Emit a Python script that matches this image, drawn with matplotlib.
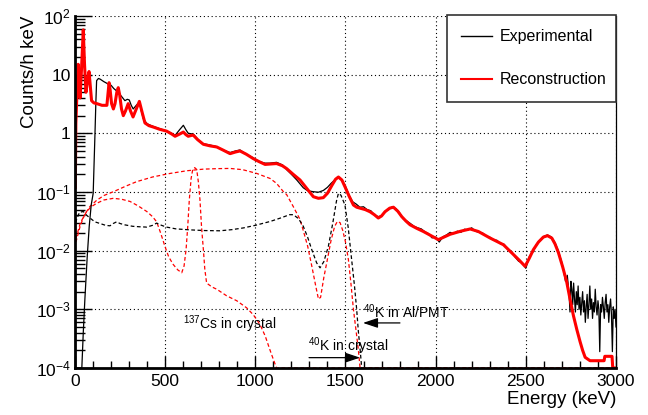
import numpy as np
import matplotlib
matplotlib.use('Agg')
import matplotlib.pyplot as plt
from matplotlib.ticker import FixedLocator, FixedFormatter, MultipleLocator
from matplotlib.lines import Line2D

plt.rcParams['font.family'] = ['Liberation Sans', 'DejaVu Sans']
plt.rcParams['mathtext.fontset'] = 'custom'
plt.rcParams['mathtext.rm'] = 'Liberation Sans'
plt.rcParams['mathtext.it'] = 'Liberation Sans'
plt.rcParams['mathtext.bf'] = 'Liberation Sans'

# reconstruction (red solid)
rec_e = [2, 5, 12, 18, 23, 28, 36, 46, 53, 61, 70, 78, 85, 92, 105, 122, 150, 177, 184, 189,
         195, 203, 213, 222, 232, 240, 248, 258, 268, 280, 295, 308, 322, 340, 357, 372, 388,
         410, 434, 470, 508, 535, 555, 580, 601, 615, 628, 645, 656, 680, 712, 750, 786, 820,
         860, 890, 915, 950, 989, 1020, 1054, 1085, 1118, 1150, 1174, 1210, 1248, 1290, 1322,
         1350, 1377, 1400, 1425, 1445, 1461, 1480, 1497, 1520, 1544, 1562, 1581, 1610, 1636,
         1660, 1682, 1700, 1719, 1745, 1766, 1790, 1812, 1835, 1858, 1895, 1932, 1975, 2015,
         2045, 2080, 2140, 2191, 2237, 2302, 2376, 2431, 2465, 2496, 2520, 2542, 2570, 2597,
         2620, 2644, 2662, 2681, 2705, 2727, 2745, 2764, 2783, 2801, 2815, 2829, 2856, 2934,
         2938, 2978, 2982, 3000]
rec_v = [0.12, 1.5, 6, 15, 7, 4, 12, 58, 15, 5, 8, 11.3, 6.5, 3.6, 3.3, 3.2, 3.0, 3.0, 5.0, 7.3,
         5.5, 3.2, 2.6, 3.2, 5.0, 6.0, 4.5, 2.6, 2.0, 2.4, 3.2, 2.4, 1.9, 2.6, 3.5, 2.3, 1.5,
         1.35, 1.28, 1.17, 1.09, 0.98, 0.89, 0.97, 1.05, 0.95, 0.89, 0.92, 0.93, 0.78, 0.65,
         0.61, 0.585, 0.52, 0.45, 0.48, 0.50, 0.44, 0.37, 0.33, 0.295, 0.30, 0.305, 0.28, 0.25,
         0.20, 0.16, 0.11, 0.083, 0.078, 0.08, 0.095, 0.13, 0.165, 0.18, 0.16, 0.123, 0.085,
         0.060, 0.055, 0.053, 0.050, 0.046, 0.041, 0.036, 0.039, 0.046, 0.053, 0.055, 0.047,
         0.038, 0.032, 0.0276, 0.024, 0.0212, 0.018, 0.0154, 0.017, 0.019, 0.0215, 0.0234,
         0.0212, 0.0164, 0.0126, 0.0086, 0.0068, 0.0054, 0.0075, 0.0104, 0.014, 0.017, 0.018,
         0.0164, 0.013, 0.0092, 0.0052, 0.0029, 0.0015, 0.00078, 0.00045, 0.00028, 0.0002,
         0.000152, 0.000133, 0.000133, 0.000158, 0.000158, 0.0001, 0.0001]

# experimental (black solid)
exp_e = [0, 38, 42, 46, 55, 61, 68, 79, 90, 101, 106, 111, 116, 120, 130, 139, 160, 185, 200,
         215, 240, 260, 277, 290, 301, 312, 323, 340, 357, 368, 379, 400, 434, 470, 508, 535,
         555, 580, 601, 615, 628, 645, 656, 680, 703, 740, 780, 820, 860, 890, 915, 950, 990,
         1020, 1054, 1080, 1118, 1150, 1174, 1200, 1230, 1266, 1290, 1322, 1350, 1377, 1400,
         1420, 1440, 1461, 1480,
         1500, 1520, 1540, 1560, 1580, 1600, 1620, 1640, 1660, 1680, 1700, 1720, 1740, 1760,
         1780, 1800, 1820, 1840, 1860, 1880, 1900, 1920, 1940, 1960, 1980, 2000, 2020, 2040,
         2060, 2080, 2100, 2120, 2140, 2160, 2180, 2200, 2220, 2240, 2260, 2280, 2300, 2320,
         2340, 2360, 2380, 2400, 2420, 2440, 2460, 2480, 2500, 2520, 2540, 2560, 2580, 2600,
         2620, 2640, 2660, 2680, 2700,
         2710, 2720, 2730, 2740, 2745, 2750, 2755, 2760, 2765, 2770, 2775, 2780, 2785, 2790,
         2795, 2800, 2805, 2810, 2815, 2820, 2825, 2830, 2835, 2840, 2845, 2850, 2855, 2860,
         2865, 2870, 2875, 2880, 2885, 2890, 2895, 2900, 2905, 2910, 2915, 2920, 2925, 2930,
         2935, 2940, 2945, 2950, 2955, 2960, 2965, 2970, 2975, 2980, 2985, 2990, 2995, 3000]
exp_v = [1e-4, 1e-4, 2e-4, 4e-4, 1.5e-3, 3.2e-3, 8e-3, 0.026, 0.06, 0.095, 0.3, 1.0, 3.5, 7.9,
         8.6, 8.4, 7.6, 6.9, 6.6, 5.8, 5.0, 4.2, 3.6, 3.8, 3.7, 3.0, 2.6, 3.0, 3.4, 2.4, 1.77,
         1.45, 1.31, 1.2, 1.1, 1.0, 0.92, 1.15, 1.37, 1.15, 1.0, 0.98, 0.97, 0.8, 0.67, 0.64,
         0.6, 0.52, 0.47, 0.50, 0.52, 0.44, 0.38, 0.33, 0.31, 0.31, 0.32, 0.29, 0.24, 0.2, 0.16,
         0.118, 0.105, 0.101, 0.099, 0.106, 0.12, 0.14, 0.16, 0.175, 0.16,
         0.125, 0.088, 0.068, 0.062, 0.055, 0.056, 0.050, 0.048, 0.041, 0.038, 0.039, 0.047,
         0.050, 0.056, 0.052, 0.044, 0.035, 0.032, 0.029, 0.026, 0.0245, 0.0235, 0.021, 0.0195,
         0.0165, 0.0170, 0.0140, 0.0172, 0.0185, 0.0205, 0.0195, 0.0215, 0.0205, 0.0232, 0.0225,
         0.0245, 0.0215, 0.0205, 0.0200, 0.0178, 0.0170, 0.0152, 0.0150, 0.0130, 0.0128, 0.0105,
         0.0098, 0.0078, 0.0066, 0.0062, 0.0050, 0.0080, 0.0095, 0.0130, 0.0148, 0.0175, 0.0185,
         0.0172, 0.0140, 0.0100, 0.0062,
         0.0045, 0.0030, 0.0038, 0.0018, 0.0009, 0.0030, 0.0022, 0.0012, 0.0028, 0.0015, 0.0009,
         0.0020, 0.0012, 0.0025, 0.0010, 0.0016, 0.0008, 0.0013, 0.0020, 0.0009, 0.0014, 0.0006,
         0.0011, 0.0018, 0.0007, 0.0012, 0.0025, 0.0010, 0.0015, 0.0007, 0.0013, 0.0009, 0.0022,
         0.0011, 0.0008, 0.0014, 0.0010, 0.00019, 0.0012, 0.0009, 0.0016, 0.0011, 0.0007, 0.0013,
         0.0018, 0.0009, 0.0012, 0.0006, 0.0011, 0.0015, 0.0008, 0.00019, 0.0011, 0.0007, 0.0010,
         0.0005]

# 40K in Al/PMT component (black dashed)
pmt_e = [3, 9, 25, 46, 65, 83, 110, 139, 170, 194, 212, 231, 250, 277, 320, 360, 398, 430, 453,
         480, 508, 560, 638, 720, 804, 870, 934, 1000, 1082, 1140, 1190, 1211, 1240, 1266, 1290,
         1313, 1340, 1359, 1380, 1405, 1430, 1450, 1461, 1475, 1497, 1515, 1534, 1550, 1562,
         1572, 1581, 1590]
pmt_v = [0.03, 0.034, 0.045, 0.0465, 0.04, 0.036, 0.031, 0.029, 0.027, 0.0265, 0.029, 0.031,
         0.029, 0.0275, 0.026, 0.0255, 0.0252, 0.027, 0.0295, 0.027, 0.0252, 0.0235, 0.0226,
         0.022, 0.0218, 0.0228, 0.0244, 0.027, 0.0314, 0.036, 0.041, 0.041, 0.035, 0.026, 0.017,
         0.0104, 0.0062, 0.0051, 0.0065, 0.0118, 0.03, 0.07, 0.095, 0.088, 0.06, 0.025, 0.0071,
         0.0025, 0.001, 0.0004, 0.00021, 0.0001]

# 40K in crystal component (red dashed)
kcr_e = [5, 9, 30, 55, 83, 120, 160, 213, 280, 342, 430, 527, 620, 712, 790, 860, 930, 1008,
         1060, 1082, 1118, 1156, 1174, 1211, 1248, 1266, 1290, 1313, 1335, 1350, 1362, 1380,
         1396, 1420, 1440, 1455, 1470, 1485, 1500, 1516, 1530, 1544, 1560, 1571, 1581, 3000]
kcr_v = [0.014, 0.0154, 0.027, 0.042, 0.0565, 0.072, 0.087, 0.101, 0.125, 0.15, 0.18, 0.207,
         0.23, 0.245, 0.25, 0.252, 0.24, 0.207, 0.18, 0.17, 0.14, 0.101, 0.09, 0.056, 0.034,
         0.022, 0.012, 0.0055, 0.0025, 0.0015, 0.0016, 0.0035, 0.0062, 0.015, 0.026, 0.0314,
         0.03, 0.022, 0.014, 0.0071, 0.0028, 0.001, 0.0004, 0.00021, 0.0001, 0.0001]

# 137Cs in crystal component (red dashed)
cs_e = [5, 9, 30, 65, 90, 120, 160, 213, 260, 305, 350, 398, 430, 453, 475, 499, 520, 545, 570,
        592, 605, 616, 625, 634, 644, 653, 664, 675, 684, 693, 702, 712, 720, 730, 760, 786, 841,
        897, 952, 990, 1026, 1055, 1082, 1100, 1118, 3000]
cs_v = [0.016, 0.0176, 0.03, 0.0465, 0.056, 0.064, 0.073, 0.078, 0.075, 0.069, 0.058, 0.0465,
        0.038, 0.031, 0.02, 0.0118, 0.0078, 0.0058, 0.0047, 0.0042, 0.0055, 0.0104, 0.025,
        0.0736, 0.17, 0.242, 0.26, 0.242, 0.15, 0.074, 0.025, 0.0104, 0.0048, 0.0028, 0.0024,
        0.0022, 0.0017, 0.0014, 0.00106, 0.0008, 0.00055, 0.00035, 0.0002, 0.00014, 0.0001,
        0.0001]

ytick_vals = [1e-4, 1e-3, 1e-2, 1e-1, 1, 10, 100]
ytick_text = [r'$10^{-4}$', r'$10^{-3}$', r'$10^{-2}$', r'$10^{-1}$', '1', '10', r'$10^{2}$']

fig = plt.figure(figsize=(6.48, 4.15), dpi=100)
ax = fig.add_axes([0.1157, 0.1133, 0.8349, 0.8482])

ax.plot(cs_e, cs_v, color='red', lw=0.9, dashes=(3, 2))
ax.plot(kcr_e, kcr_v, color='red', lw=0.9, dashes=(3, 2))
ax.plot(pmt_e, pmt_v, color='black', lw=0.9, dashes=(3, 2))
ax.plot(exp_e, exp_v, color='black', lw=0.9)
ax.plot(rec_e, rec_v, color='red', lw=2.2)

ax.set_yscale('log')
ax.set_xlim(0, 3000)
ax.set_ylim(1e-4, 100)

ax.xaxis.set_major_locator(MultipleLocator(500))
ax.xaxis.set_minor_locator(MultipleLocator(100))
ax.yaxis.set_major_locator(FixedLocator(ytick_vals))
ax.yaxis.set_major_formatter(FixedFormatter(ytick_text))
ax.tick_params(axis='both', which='both', direction='in', labelsize=12.5)
ax.tick_params(axis='x', which='major', length=9, width=1, pad=4)
ax.tick_params(axis='x', which='minor', length=5, width=1)
ax.tick_params(axis='y', which='major', length=12, width=1, pad=3)
ax.tick_params(axis='y', which='minor', length=7, width=1)

ax.grid(True, which='major', color='black', lw=0.8, ls=(0, (1, 2.5)))
for s in ['left', 'bottom']:
    ax.spines[s].set_linewidth(2)
ax.spines['top'].set_visible(False)
ax.spines['right'].set_linewidth(0.9)

ax.set_xlabel('Energy (keV)', fontsize=13.5, loc='right')
ax.set_ylabel('Counts/h keV', fontsize=13.5, loc='top')
ax.xaxis.set_label_coords(1.0, -0.065)
ax.yaxis.set_label_coords(-0.068, 1.0)

ax.text(599, 5.6e-4, r'$^{137}$Cs in crystal', fontsize=10, va='center')
ax.text(1597, 9.2e-4, r'$^{40}$K in Al/PMT', fontsize=10, va='center')
ax.text(1292, 2.36e-4, r'$^{40}$K in crystal', fontsize=10, va='center')
arrow = dict(arrowstyle='-|>,head_length=0.9,head_width=0.3', color='black', lw=0.9,
             shrinkA=0, shrinkB=0)
ax.annotate('', xy=(1597, 5.86e-4), xytext=(1802, 5.86e-4), arrowprops=arrow)
ax.annotate('', xy=(1581, 1.5e-4), xytext=(1298, 1.5e-4), arrowprops=arrow)

handles = [Line2D([], [], color='black', lw=1), Line2D([], [], color='red', lw=1.5)]
leg = ax.legend(handles, ['Experimental', 'Reconstruction'], loc='upper left',
                bbox_to_anchor=(0.6876, 0.75, 0.3124, 0.253), mode='expand', borderaxespad=0,
                fontsize=11.5, fancybox=False, framealpha=1, edgecolor='#333333',
                handlelength=1.9, handletextpad=0.5, labelspacing=1.75, borderpad=0.9)
leg.get_frame().set_linewidth(1.2)

fig.savefig('out.png', dpi=100)
